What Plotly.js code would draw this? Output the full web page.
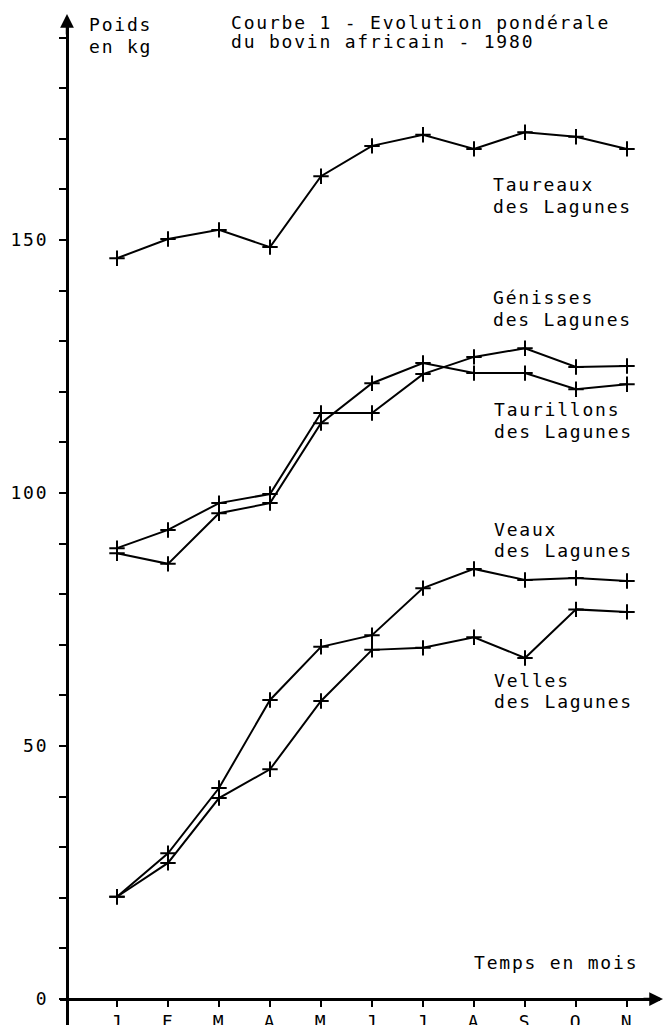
<!DOCTYPE html>
<html>
<head>
<meta charset="utf-8">
<script src="https://cdn.plot.ly/plotly-3.0.1.min.js"></script>
<style>
  html, body { margin: 0; padding: 0; background: #fff; }
  svg text { letter-spacing: 1.8px; }
</style>
</head>
<body>
<div id="chart" style="width:664px;height:1025px;"></div>
<script>
// ---- Data ----
const months = ['J', 'F', 'M', 'A', 'M', 'J', 'J', 'A', 'S', 'O', 'N'];
const taureaux   = [146.4, 150.2, 152.0, 148.6, 162.6, 168.6, 170.8, 168.0, 171.3, 170.4, 168.0];
const genisses   = [89.1, 92.7, 98.0, 99.8, 115.8, 115.8, 123.5, 126.9, 128.6, 124.9, 125.1];
const taurillons = [88.1, 86.0, 96.0, 98.0, 113.8, 121.7, 125.7, 123.7, 123.7, 120.5, 121.5];
const veaux      = [20.2, 28.8, 41.7, 59.1, 69.6, 71.9, 81.2, 85.0, 82.8, 83.2, 82.6];
const velles     = [20.2, 26.9, 39.7, 45.4, 58.9, 69.0, 69.4, 71.5, 67.4, 77.0, 76.5];
const yTickVals  = [0,10,20,30,40,50,60,70,80,90,100,110,120,130,140,150,160,170,180,190];
const yTickText  = ['0','','','','','50','','','','','100','','','','','150','','','',''];

const seriesNames = ['Taureaux des Lagunes', 'Génisses des Lagunes', 'Taurillons des Lagunes',
                     'Veaux des Lagunes', 'Velles des Lagunes'];
const seriesVals = [taureaux, genisses, taurillons, veaux, velles];

// ---- Build ----
const W = 664, H = 1025;
const FONT = 'DejaVu Sans Mono';
const FS = 18;
const xPos = months.map((m, i) => i + 1);

const traces = seriesVals.map((vals, k) => ({
  type: 'scatter', mode: 'lines+markers', name: seriesNames[k],
  x: xPos, y: vals, xaxis: 'x', yaxis: 'y',
  line: { color: '#000', width: 2 },
  marker: { symbol: 'cross-thin', size: 11, color: '#000', line: { width: 2, color: '#000' } },
  cliponaxis: false, hoverinfo: 'skip'
}));

const px = p => p / W;          // pixel x -> paper
const py = p => 1 - p / H;      // pixel y -> paper

function label(text, xPix, capTopPix) {
  return {
    text: text, xref: 'paper', yref: 'paper',
    x: px(xPix - 1), y: py(capTopPix - 0.26 * FS),
    xanchor: 'left', yanchor: 'top', showarrow: false, align: 'left',
    font: { family: FONT, size: FS, color: '#000' }
  };
}

const xRange = [(60 - 66) / 51, (660 - 66) / 51];
const yRange = [(999 - 1025) / 5.06, (999 - 20) / 5.06];

const axisFont = { family: FONT, size: FS, color: '#000' };

const layout = {
  width: W, height: H,
  margin: { l: 0, r: 0, t: 0, b: 0, pad: 0 },
  paper_bgcolor: '#fff', plot_bgcolor: '#fff',
  showlegend: false, hovermode: false,
  xaxis: {
    domain: [60 / W, 660 / W], range: xRange, anchor: 'free', position: 26 / H,
    showline: true, linewidth: 2.5, linecolor: '#000',
    ticks: 'outside', ticklen: 6, tickwidth: 2, tickcolor: '#000',
    tickmode: 'array', tickvals: xPos, ticktext: months, tickfont: axisFont,
    ticklabelstandoff: 0,
    showgrid: false, zeroline: false, fixedrange: true
  },
  xaxis2: {
    overlaying: 'x', range: xRange, anchor: 'free', position: 26 / H,
    showline: false, ticks: 'inside', ticklen: 5, tickwidth: 2, tickcolor: '#000',
    tickmode: 'array', tickvals: xPos, showticklabels: false,
    showgrid: false, zeroline: false, fixedrange: true
  },
  yaxis: {
    domain: [0, 1 - 20 / H], range: yRange, anchor: 'free', position: 67 / W, side: 'left',
    showline: true, linewidth: 3, linecolor: '#000',
    ticks: 'outside', ticklen: 7, tickwidth: 2, tickcolor: '#000',
    tickmode: 'array', tickvals: yTickVals, ticktext: yTickText, tickfont: axisFont,
    ticklabelstandoff: 7,
    showgrid: false, zeroline: false, fixedrange: true
  },
  yaxis2: {
    overlaying: 'y', range: yRange, anchor: 'free', position: 67 / W, side: 'left',
    showline: false, ticks: 'inside', ticklen: 3, tickwidth: 2, tickcolor: '#000',
    tickmode: 'array', tickvals: yTickVals, showticklabels: false,
    showgrid: false, zeroline: false, fixedrange: true
  },
  annotations: [
    label('Poids', 88, 17),
    label('en kg', 88, 39),
    label('Courbe 1 - Evolution pondérale', 230, 15),
    label('du bovin africain - 1980', 230, 34),
    label('Taureaux', 492, 177),
    label('des Lagunes', 492, 199),
    label('Génisses', 492, 290),
    label('des Lagunes', 492, 312),
    label('Taurillons', 493, 402),
    label('des Lagunes', 493, 424),
    label('Veaux', 493, 522),
    label('des Lagunes', 493, 543),
    label('Velles', 493, 673),
    label('des Lagunes', 493, 694),
    label('Temps en mois', 473, 955),
    // axis arrowheads
    { text: '', xref: 'paper', yref: 'paper', x: px(67), y: py(14), ax: 0, ay: 22,
      showarrow: true, arrowhead: 2, arrowsize: 1.1, arrowwidth: 2.5, arrowcolor: '#000', standoff: 0 },
    { text: '', xref: 'paper', yref: 'paper', x: px(664), y: py(999), ax: -22, ay: 0,
      showarrow: true, arrowhead: 2, arrowsize: 1.1, arrowwidth: 2.5, arrowcolor: '#000', standoff: 0 }
  ]
};

Plotly.newPlot('chart', traces, layout, { displayModeBar: false, staticPlot: true });
</script>
</body>
</html>
